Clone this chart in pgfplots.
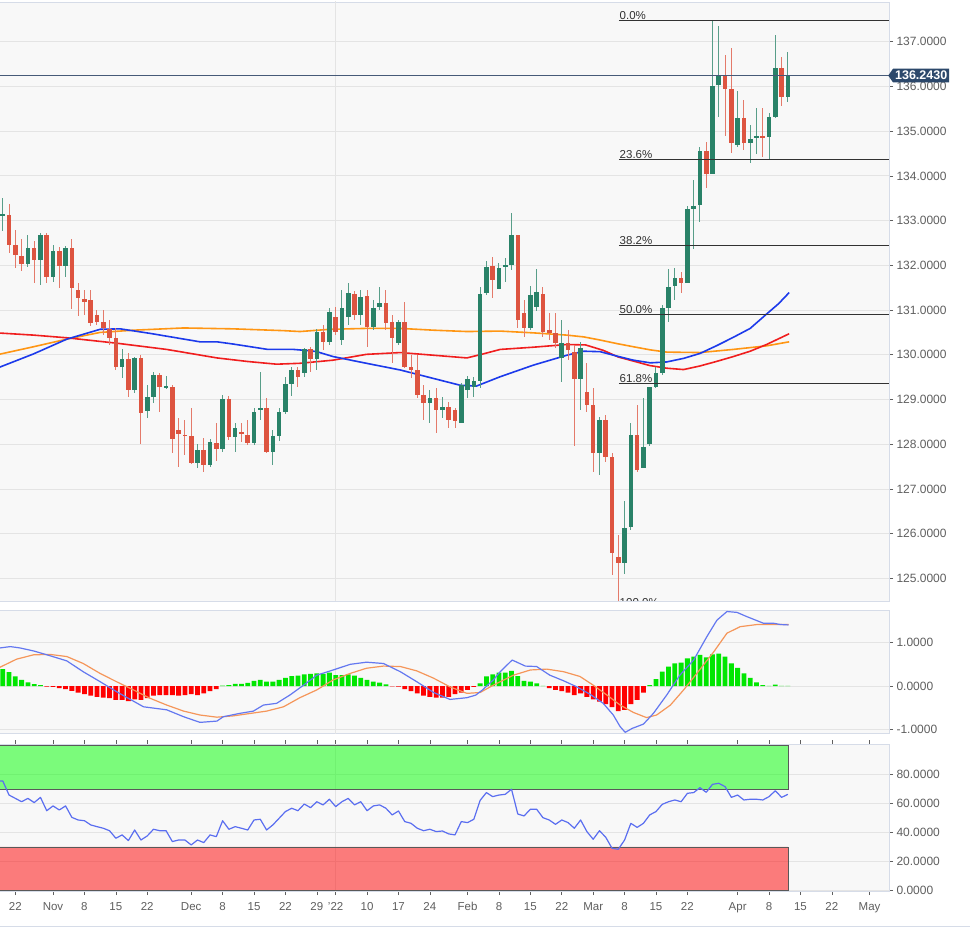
\documentclass[border=0pt]{standalone}
\usepackage{fontspec}
\setmainfont{Liberation Sans}
\usepackage{pgfplots}
\usepackage{pgfplotstable}
\pgfplotsset{compat=1.18}
\usetikzlibrary{shapes.symbols}

\definecolor{cup}{RGB}{41,130,104}
\definecolor{cdn}{RGB}{221,84,64}
\definecolor{plotbg}{RGB}{248,248,248}
\definecolor{gridc}{RGB}{228,228,228}
\definecolor{framec}{RGB}{214,220,232}
\definecolor{tickc}{RGB}{95,95,95}
\definecolor{maBlue}{RGB}{28,58,235}
\definecolor{maRed}{RGB}{240,30,30}
\definecolor{maOrange}{RGB}{255,150,20}
\definecolor{macdBlue}{RGB}{100,120,240}
\definecolor{macdOrange}{RGB}{245,150,90}
\definecolor{histG}{RGB}{0,230,0}
\definecolor{histR}{RGB}{255,0,0}
\definecolor{rsiBlue}{RGB}{90,110,240}
\definecolor{lastc}{RGB}{44,72,107}
\definecolor{lastline}{RGB}{70,90,120}
\definecolor{fibc}{RGB}{50,50,50}

% daily candles, x = trading day (0 = 1 Nov 2021)
\pgfplotstableread{
i o h l c
-8 133.10 133.50 132.77 133.14
-4 132.03 132.68 131.97 132.38
-2 132.12 132.73 131.56 132.68
0 131.73 132.45 131.63 132.33
2 131.99 132.43 131.75 132.38
11 129.73 130.13 129.48 129.91
13 129.21 129.96 129.15 129.93
15 128.74 129.32 128.59 129.06
16 129.06 129.62 128.92 129.55
18 129.26 129.53 129.24 129.30
23 127.59 128.00 127.47 127.87
25 127.53 128.12 127.50 128.05
27 127.89 129.10 127.83 129.01
29 128.16 128.47 127.83 128.36
32 128.03 128.81 127.98 128.73
33 128.78 129.62 128.54 128.80
35 127.83 128.32 127.54 128.19
36 128.19 128.81 128.08 128.73
37 128.73 129.50 128.68 129.35
38 129.35 129.73 129.08 129.66
40 129.60 130.15 129.50 130.13
42 129.91 130.58 129.66 130.52
44 130.29 131.05 130.22 130.96
46 130.33 131.45 130.22 131.05
47 130.85 131.61 130.67 131.38
49 130.89 131.45 130.67 131.30
51 130.63 131.23 130.55 131.04
52 131.07 131.51 131.00 131.15
55 130.26 130.78 130.22 130.74
60 128.92 129.21 128.47 129.03
62 128.77 129.06 128.59 128.84
65 128.48 129.36 128.48 129.32
66 129.21 129.52 129.03 129.47
67 129.29 129.50 129.06 129.42
68 129.42 131.52 129.26 131.37
69 131.39 132.10 131.33 131.97
71 131.48 132.05 131.48 131.93
72 131.97 132.16 131.63 132.01
73 132.01 133.16 131.90 132.68
76 130.60 131.54 130.55 131.34
77 131.07 131.91 130.98 131.41
81 129.92 130.78 129.40 130.26
84 129.47 130.29 128.77 130.15
87 127.81 128.62 127.31 128.54
91 125.34 126.73 125.11 126.12
92 126.14 128.47 126.08 128.21
94 127.47 129.03 127.46 127.93
95 128.00 129.29 127.95 129.29
96 129.29 129.73 129.25 129.60
97 129.59 131.11 129.55 131.04
98 131.04 131.93 130.74 131.51
99 131.54 131.93 131.23 131.71
101 131.61 133.33 131.60 133.25
102 133.25 133.91 132.36 133.33
103 133.35 134.65 132.97 134.56
105 134.04 137.47 134.04 136.01
106 136.03 137.34 135.32 136.23
109 134.69 135.90 134.65 135.29
111 134.74 135.14 134.29 134.82
112 134.87 135.51 134.50 134.88
114 134.88 135.40 134.37 135.32
115 135.32 137.15 135.29 136.42
117 135.77 136.78 135.66 136.24
}\upcandles

\pgfplotstableread{
i o h l c
-7 133.13 133.37 132.27 132.46
-6 132.46 132.79 131.93 132.23
-5 132.22 132.60 131.88 132.03
-3 132.38 132.55 131.60 132.12
-1 132.68 132.73 131.61 131.73
1 132.33 132.40 131.49 131.99
3 132.38 132.58 131.02 131.49
4 131.45 131.61 130.87 131.26
5 131.24 131.45 130.89 131.19
6 131.22 131.45 130.64 130.71
7 130.89 131.00 130.67 130.74
8 130.73 131.00 130.44 130.60
9 130.58 130.78 130.22 130.37
10 130.37 130.60 129.66 129.73
12 129.91 130.04 129.06 129.21
14 129.93 130.00 128.01 128.70
17 129.55 129.59 128.73 129.28
19 129.28 129.32 127.80 128.12
20 128.32 128.58 127.49 128.23
21 128.21 128.54 127.76 128.20
22 128.19 128.81 127.57 127.59
24 127.87 128.14 127.39 127.53
26 128.03 128.47 127.63 127.89
28 129.01 129.08 128.09 128.16
30 128.28 128.47 128.06 128.23
31 128.20 128.54 127.98 128.03
34 128.81 129.03 127.80 127.83
39 129.66 129.73 129.28 129.50
41 130.13 130.17 129.62 129.91
43 130.52 130.67 130.11 130.29
45 130.85 131.07 130.44 130.52
48 131.36 131.43 130.78 130.89
50 131.31 131.45 130.18 130.63
53 131.15 131.45 130.55 130.70
54 130.74 130.89 129.82 130.37
56 130.74 131.19 129.70 129.73
57 129.73 130.00 129.48 129.66
58 129.66 130.00 129.03 129.10
59 129.10 129.32 128.54 128.92
61 129.03 129.26 128.25 128.77
63 128.84 128.95 128.36 128.54
64 128.77 128.81 128.36 128.53
70 131.98 132.19 131.26 131.67
74 132.68 132.68 130.59 130.78
75 130.93 131.23 130.40 130.60
78 131.37 131.52 130.40 130.52
79 130.55 130.93 130.33 130.48
80 130.48 130.93 130.15 130.26
82 130.26 130.55 129.88 130.11
83 130.07 130.22 127.95 129.47
85 129.17 129.81 128.73 128.88
86 128.88 129.25 127.39 127.81
88 128.54 128.65 127.61 127.72
89 127.72 127.80 125.07 125.56
90 125.49 125.97 124.35 125.34
93 128.21 128.88 127.39 127.42
100 131.71 131.86 131.39 131.61
104 134.56 134.76 133.74 134.04
107 136.23 136.70 134.89 135.94
108 135.94 136.85 134.52 134.73
110 135.29 135.70 134.58 134.74
113 134.89 135.51 134.43 134.86
116 136.42 136.65 135.56 135.77
}\downcandles

\pgfplotstableread{
i v
-8 0.39
-7 0.32
-6 0.22
-5 0.14
-4 0.085
-3 0.046
-2 0.023
27 0.01
28 0.02
29 0.05
30 0.05
31 0.07
32 0.12
33 0.14
34 0.10
35 0.10
36 0.14
37 0.19
38 0.23
39 0.24
40 0.27
41 0.28
42 0.29
43 0.28
44 0.31
45 0.25
46 0.25
47 0.27
48 0.24
49 0.19
50 0.14
51 0.10
52 0.08
53 0.04
68 0.06
69 0.22
70 0.27
71 0.31
72 0.31
73 0.35
74 0.23
75 0.12
76 0.10
77 0.06
78 0.005
95 0.02
96 0.16
97 0.33
98 0.45
99 0.52
100 0.54
101 0.64
102 0.68
103 0.72
104 0.66
105 0.73
106 0.75
107 0.68
108 0.52
109 0.42
110 0.29
111 0.19
112 0.085
113 0.02
114 0.004
115 0.03
116 0.004
117 0.004
}\histup

\pgfplotstableread{
i v
-1 -0.015
0 -0.02
1 -0.05
2 -0.07
3 -0.11
4 -0.15
5 -0.19
6 -0.22
7 -0.25
8 -0.27
9 -0.28
10 -0.32
11 -0.32
12 -0.35
13 -0.31
14 -0.32
15 -0.28
16 -0.22
17 -0.21
18 -0.21
19 -0.21
20 -0.22
21 -0.21
22 -0.19
23 -0.21
24 -0.17
25 -0.12
26 -0.07
54 -0.01
55 -0.015
56 -0.07
57 -0.12
58 -0.17
59 -0.22
60 -0.25
61 -0.27
62 -0.27
63 -0.25
64 -0.19
65 -0.15
66 -0.09
67 -0.02
79 -0.05
80 -0.09
81 -0.12
82 -0.15
83 -0.21
84 -0.17
85 -0.25
86 -0.31
87 -0.36
88 -0.42
89 -0.49
90 -0.58
91 -0.55
92 -0.42
93 -0.32
94 -0.15
}\histdown

\pgfplotsset{
  panel/.style={
    scale only axis, anchor=north west, width=892pt,
    xmin=-8.92, xmax=133.1,
    axis background/.style={fill=plotbg},
    axis line style={framec, line width=0.8pt},
    ymajorgrids,
    grid style={gridc, line width=0.8pt},
    yticklabel pos=right,
    tick align=outside, major tick length=4pt,
    tick style={tickc, line width=0.6pt},
    scaled y ticks=false,
    yticklabel style={font=\fontsize{12}{14}\selectfont, text=tickc,
      /pgf/number format/fixed, /pgf/number format/fixed zerofill,
      /pgf/number format/precision=4,
      /pgf/number format/assume math mode=true},
    clip=true,
  },
  wick/.style={only marks, mark=*, mark options={opacity=0}, forget plot,
    error bars/.cd, y dir=both, y explicit, error mark=none,
    error bar style={#1, line width=1pt, opacity=1}},
  body/.style={only marks, mark=*, mark options={opacity=0}, forget plot,
    error bars/.cd, y dir=both, y explicit, error mark=none,
    error bar style={#1, line width=4.6pt, opacity=1}},
}

\begin{document}
\begin{tikzpicture}
\useasboundingbox (0pt,0pt) rectangle (975pt,-931pt);
\fill[white] (0pt,0pt) rectangle (975pt,-931pt);

% ---------------- price panel ----------------
\begin{axis}[panel, at={(-3pt,-2pt)}, height=599pt,
  ymin=124.4956, ymax=137.8876, ytick={125,...,137}, xtick=\empty]
\addplot[gridc, line width=0.8pt, forget plot] coordinates {(45,120) (45,140)};

% moving averages
\addplot[maOrange, line width=1.6pt, line join=round] coordinates {
(-8.92,130.00) (-3.1,130.18) (2.2,130.35) (7.5,130.50) (12.8,130.55) (20.8,130.60)
(28.7,130.58) (36.7,130.54) (39.3,130.52) (44.1,130.57) (49.9,130.59) (55.3,130.59)
(60.6,130.55) (65.9,130.52) (71.2,130.53) (76.5,130.49) (81.8,130.44) (84.5,130.40)
(87.1,130.33) (89.8,130.25) (92.4,130.18) (95.1,130.11) (97.7,130.06) (103.0,130.05)
(108.3,130.12) (113.6,130.20) (117.2,130.29)};
\addplot[maRed, line width=1.6pt, line join=round] coordinates {
(-8.92,130.49) (-3.1,130.44) (2.2,130.38) (10.1,130.26) (18.1,130.12) (26.1,129.93)
(31,129.85) (35.6,129.79) (39.3,129.81) (44.6,129.88) (49.9,130.01) (55.3,130.05)
(60.6,129.99) (65.9,129.93) (68.5,130.02) (71.2,130.12) (76.5,130.17) (81.8,130.23)
(84.8,130.22) (87.6,130.10) (90.0,129.95) (92.4,129.86) (95.0,129.76) (97.7,129.70)
(100.4,129.67) (103.0,129.75) (105.6,129.85) (108.3,129.96) (111.0,130.08)
(113.6,130.23) (117.2,130.47)};
\addplot[maBlue, line width=1.6pt, line join=round] coordinates {
(-8.92,129.70) (-3.1,130.02) (2.2,130.35) (7.5,130.57) (10.7,130.58) (15.4,130.48)
(23.4,130.29) (26.1,130.29) (28.7,130.24) (34.2,130.12) (38.3,130.12) (40.9,130.09)
(42.0,130.07) (44.6,129.96) (49.9,129.81) (55.3,129.66) (60.6,129.47) (64.8,129.32)
(67.4,129.30) (71.2,129.51) (76.5,129.77) (81.8,129.99) (84.5,130.08) (87.1,130.07)
(89.8,129.97) (92.4,129.88) (95.1,129.82) (97.7,129.84) (100.4,129.92) (103.0,130.03)
(105.6,130.20) (108.3,130.39) (111.0,130.59) (113.6,130.91) (115.5,131.14) (117.2,131.39)};

% candles
\addplot[wick=cup!78!white] table[x=i, y expr={(\thisrow{h}+\thisrow{l})/2},
  y error expr={(\thisrow{h}-\thisrow{l})/2}] {\upcandles};
\addplot[wick=cdn!78!white] table[x=i, y expr={(\thisrow{h}+\thisrow{l})/2},
  y error expr={(\thisrow{h}-\thisrow{l})/2}] {\downcandles};
\addplot[body=cup] table[x=i, y expr={(\thisrow{o}+\thisrow{c})/2},
  y error expr={max(abs(\thisrow{c}-\thisrow{o})/2,0.012)}] {\upcandles};
\addplot[body=cdn] table[x=i, y expr={(\thisrow{o}+\thisrow{c})/2},
  y error expr={max(abs(\thisrow{c}-\thisrow{o})/2,0.012)}] {\downcandles};

% Fibonacci retracement levels
\addplot[fibc, line width=1.1pt] coordinates {(90.1,137.47) (133.1,137.47)};
\addplot[fibc, line width=1.1pt] coordinates {(90.1,134.37) (133.1,134.37)};
\addplot[fibc, line width=1.1pt] coordinates {(90.1,132.45) (133.1,132.45)};
\addplot[fibc, line width=1.1pt] coordinates {(90.1,130.91) (133.1,130.91)};
\addplot[fibc, line width=1.1pt] coordinates {(90.1,129.36) (133.1,129.36)};
\addplot[fibc, line width=1.1pt] coordinates {(90.1,124.35) (133.1,124.35)};
\begin{scope}[every node/.style={anchor=south west, inner sep=0.6pt, text=fibc,
    font=\fontsize{11.5}{13}\selectfont}]
\node at (axis cs:90.1,137.47) {0.0\%};
\node at (axis cs:90.1,134.37) {23.6\%};
\node at (axis cs:90.1,132.45) {38.2\%};
\node at (axis cs:90.1,130.91) {50.0\%};
\node at (axis cs:90.1,129.36) {61.8\%};
\node at (axis cs:90.1,124.35) {100.0\%};
\end{scope}

% last price
\addplot[lastline, line width=1pt] coordinates {(-8.92,136.243) (133.1,136.243)};
\coordinate (lastp) at (axis cs:133.1,136.243);
\end{axis}
\node[signal, signal to=west, signal pointer angle=110, fill=lastc, text=white,
  font=\bfseries\fontsize{12.5}{14}\selectfont, inner xsep=2pt, inner ysep=2.5pt,
  anchor=west] at ([xshift=-1pt]lastp) {136.2430};

% ---------------- MACD panel ----------------
\begin{axis}[panel, at={(-3pt,-610.7pt)}, height=122.3pt,
  ymin=-1.0855, ymax=1.739, ytick={-1,0,1}, xtick=\empty]
\addplot[gridc, line width=0.8pt, forget plot] coordinates {(45,-2) (45,2)};
\addplot[ybar, bar width=4.8pt, bar shift=0pt, fill=histG, draw=none] table[x=i, y=v] {\histup};
\addplot[ybar, bar width=4.8pt, bar shift=0pt, fill=histR, draw=none] table[x=i, y=v] {\histdown};
\addplot[macdOrange, line width=1.2pt, line join=round] coordinates {
(-8.92,0.40) (-5.8,0.62) (-3.1,0.72) (-0.5,0.73) (2.2,0.68) (4.8,0.52) (7.5,0.29)
(10.1,0.10) (12.8,-0.09) (15.4,-0.28) (18.1,-0.44) (20.8,-0.58) (23.4,-0.67)
(26.1,-0.72) (28.7,-0.69) (34.0,-0.58) (36.7,-0.48) (39.3,-0.27) (42.0,-0.09)
(44.6,0.14) (47.3,0.29) (49.9,0.41) (52.6,0.46) (55.3,0.45) (57.9,0.35) (60.6,0.18)
(63.2,-0.02) (65.9,-0.17) (68.0,-0.15) (70.1,0.02) (73.3,0.25) (76.0,0.37)
(78.6,0.39) (81.3,0.33) (83.9,0.22) (86.0,0.02) (88.2,-0.21) (90.3,-0.44)
(92.4,-0.61) (94.5,-0.73) (96.1,-0.67) (98.3,-0.44) (100.4,-0.09) (102.5,0.29)
(105.2,0.79) (107.3,1.22) (109.4,1.37) (112.1,1.42) (117.1,1.42)};
\addplot[macdBlue, line width=1.2pt, line join=round] coordinates {
(-8.92,0.87) (-6.8,0.91) (-5.3,0.88) (-3.1,0.81) (-0.5,0.70) (2.2,0.58) (4.8,0.33)
(7.5,0.10) (10.1,-0.13) (12.8,-0.35) (14.4,-0.48) (18.1,-0.55) (20.8,-0.71)
(23.4,-0.84) (26.1,-0.81) (27.1,-0.71) (29.8,-0.63) (31.9,-0.58) (33.5,-0.44)
(35.6,-0.40) (37.7,-0.21) (39.9,0.02) (42.0,0.25) (44.6,0.37) (47.3,0.50)
(49.9,0.55) (52.6,0.52) (55.3,0.33) (57.9,0.10) (60.6,-0.15) (63.2,-0.31)
(65.9,-0.27) (67.3,-0.21) (68.3,-0.10) (70.1,0.14) (71.2,0.33) (73.1,0.60)
(75.2,0.46) (77.0,0.45) (79.1,0.25) (81.3,0.12) (83.4,-0.02) (85.5,-0.19)
(87.6,-0.40) (89.2,-0.67) (90.3,-0.94) (91.1,-1.07) (92.2,-0.98) (94.0,-0.88)
(95.6,-0.63) (97.7,-0.21) (99.8,0.25) (102.0,0.60) (104.1,1.14) (105.7,1.52)
(107.3,1.72) (108.9,1.70) (110.5,1.60) (113.1,1.45) (114.7,1.45) (115.8,1.42)
(117.1,1.41)};
\end{axis}

% ---------------- RSI panel ----------------
\begin{axis}[panel, at={(-3pt,-744pt)}, height=147pt,
  ymin=-0.48, ymax=100.9, ytick={0,20,40,60,80},
  xtick={-6,0,5,10,15,22,27,32,37,42,45,50,55,60,66,71,76,81,86,91,96,101,109,114,119,124,130},
  xticklabels={22,Nov,8,15,22,Dec,8,15,22,29,'22,10,17,24,Feb,8,15,22,Mar,8,15,22,Apr,8,15,22,May},
  xticklabel style={font=\fontsize{11.5}{13}\selectfont, text=tickc, yshift=-4pt}]
\addplot[gridc, line width=0.8pt, forget plot] coordinates {(45,-5) (45,105)};
\addplot[fill=green, fill opacity=0.5, draw=black!65, line width=0.6pt] coordinates {
(-9.5,70) (117,70) (117,100) (-9.5,100) (-9.5,70)};
\addplot[fill=red, fill opacity=0.5, draw=black!65, line width=0.6pt] coordinates {
(-9.5,0) (117,0) (117,30) (-9.5,30) (-9.5,0)};
\addplot[rsiBlue, line width=1.2pt, line join=round] coordinates {
(-8.92,75.4) (-8,75.4) (-7,65.7) (-6,63.4) (-5,61.1) (-4,63.4) (-3,60.5) (-2,64.1)
(-1,54.9) (0,58.2) (1,55.4) (2,58.2) (3,50.3) (4,48.5) (5,48.0) (6,45.1) (7,43.9)
(8,42.8) (9,41.1) (10,35.9) (11,38.2) (12,34.3) (13,41.6) (14,34.7) (15,37.5)
(16,42.1) (17,41.1) (18,41.1) (19,33.6) (20,34.7) (21,34.7) (22,31.3) (23,34.7)
(24,32.9) (25,38.2) (26,37.0) (27,48.0) (28,42.1) (29,43.9) (30,42.8) (31,41.6)
(32,48.5) (33,49.0) (34,41.6) (35,45.1) (36,49.7) (37,54.3) (38,56.6) (39,54.9)
(40,59.5) (41,57.0) (42,61.1) (43,58.9) (44,62.8) (45,57.7) (46,61.1) (47,63.4)
(48,58.9) (49,61.1) (50,54.9) (51,58.2) (52,58.9) (53,56.6) (54,52.0) (55,54.7)
(56,47.4) (57,46.2) (58,42.8) (59,41.1) (60,42.1) (61,40.5) (62,40.9) (63,38.9)
(64,38.2) (65,47.4) (66,46.7) (67,49.0) (68,62.0) (69,67.4) (70,64.6) (71,65.7)
(72,66.2) (73,69.7) (74,52.6) (75,51.3) (76,55.9) (77,55.9) (78,50.1) (79,48.5)
(80,45.5) (81,48.5) (82,46.7) (83,42.8) (84,48.5) (85,40.5) (86,35.2) (87,41.1)
(88,36.6) (89,29.0) (90,28.3) (91,34.7) (92,46.2) (93,43.4) (94,46.2) (95,52.0)
(96,54.3) (97,59.3) (98,61.1) (99,62.3) (100,61.1) (101,66.9) (102,67.4) (103,70.8)
(104,67.6) (105,73.1) (106,73.8) (107,71.5) (108,64.1) (109,65.7) (110,62.3)
(111,62.8) (112,62.8) (113,62.3) (114,64.6) (115,68.7) (116,64.1) (117,66.2)};
\end{axis}

\draw[framec, line width=0.8pt] (0pt,-926.5pt) -- (970pt,-926.5pt);
\end{tikzpicture}
\end{document}
